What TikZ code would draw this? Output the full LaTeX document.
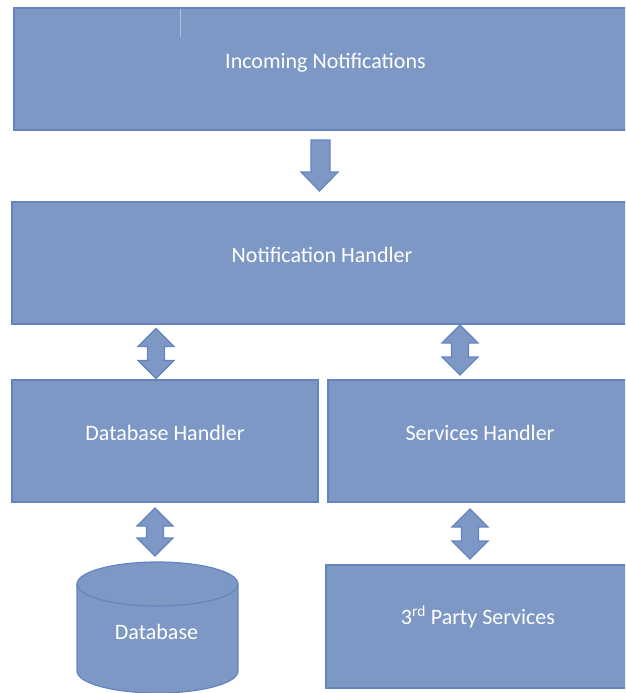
\documentclass[tikz,border=0pt]{standalone}
\usepackage{fontspec}
\setmainfont{Carlito}
\usetikzlibrary{calc}
\definecolor{boxfill}{RGB}{126,152,198}
\definecolor{boxline}{RGB}{100,132,192}
\definecolor{artline}{RGB}{176,192,221}
\tikzset{
  blk/.style={fill=boxfill, draw=boxline, line width=1.2pt, line join=miter},
  boxshape/.style={blk, rectangle, inner sep=0pt},
  lbl/.style={text=white, font=\fontsize{22}{26}\selectfont, anchor=base, inner sep=0pt},
  pics/dbl/.style={code={
    \path[blk] (0,-#1/2) -- (18,-#1/2+18) -- (8.5,-#1/2+18) -- (8.5,#1/2-18)
      -- (18,#1/2-18) -- (0,#1/2) -- (-18,#1/2-18) -- (-8.5,#1/2-18)
      -- (-8.5,-#1/2+18) -- (-18,-#1/2+18) -- cycle;}}
}
\begin{document}
\begin{tikzpicture}[x=1pt,y=-1pt]
\useasboundingbox (0,0) rectangle (625,693);
\clip (0,0) rectangle (625,693);

% boxes
\path[boxshape] (14,8) rectangle (637,130);
\coordinate (inc) at (325.5,69);
\path[boxshape] (12,202) rectangle (632,324);
\coordinate (nh) at (322,263);
\path[boxshape] (12,380) rectangle (318,502);
\coordinate (dbh) at (165,441);
\path[boxshape] (328,380) rectangle (632,502);
\coordinate (svh) at (480,441);
\path[boxshape] (326,565) rectangle (630,688);
\coordinate (tps) at (478,626);

% small artifact line
\draw[artline, line width=0.8pt] (180,9) -- (180,37);

% labels
\node[lbl] (tinc) at (325.5,68) {Incoming Notifications};
\node[lbl] (tnh) at (322,262) {Notification Handler};
\node[lbl] (tdbh) at (165,440) {Database Handler};
\node[lbl] (tsvh) at (480,440) {Services Handler};
\node[lbl] (ttps) at (478,624) {3\textsuperscript{rd} Party Services};

% cylinder
\path[blk] (77,584) -- (77,671)
  .. controls (77,683.15) and (113.04,693) .. (157.5,693)
  .. controls (201.96,693) and (238,683.15) .. (238,671)
  -- (238,584)
  .. controls (238,571.85) and (201.96,562) .. (157.5,562)
  .. controls (113.04,562) and (77,571.85) .. (77,584) -- cycle;
\draw[boxline, line width=1.2pt] (77,584)
  .. controls (77,596.15) and (113.04,606) .. (157.5,606)
  .. controls (201.96,606) and (238,596.15) .. (238,584);
\node[lbl] (tdb) at (156.5,639) {Database};

% down arrow
\path[blk] (311,140) -- (330,140) -- (330,172) -- (338,172) -- (319.5,191)
  -- (301,172) -- (311,172) -- cycle;

% double arrows
\pic at (156,353.5) {dbl=50};
\pic at (460,350) {dbl=50};
\pic at (155,532) {dbl=48};
\pic at (470,534) {dbl=50};
\end{tikzpicture}
\end{document}
